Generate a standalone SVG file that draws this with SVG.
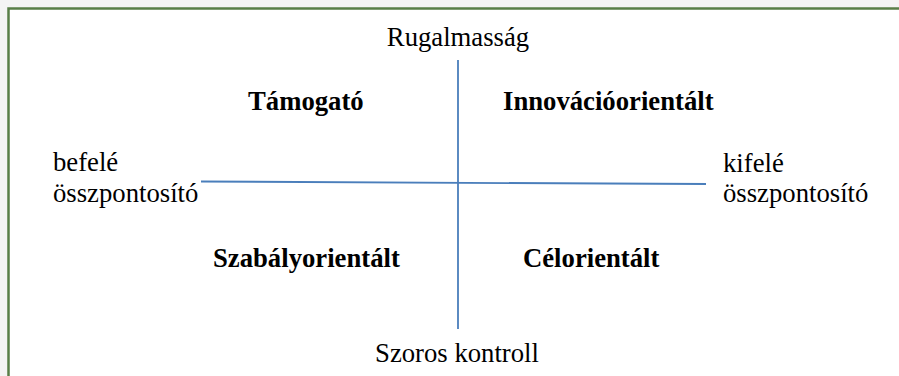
<svg xmlns="http://www.w3.org/2000/svg" width="899" height="376" viewBox="0 0 899 376">
<style>
.t{font-family:"Liberation Serif",serif;font-size:26.7px;font-weight:normal;fill:#000}
.b{font-weight:bold}
.ax{stroke:#4a7ebb;stroke-width:1.8;fill:none}
</style>
<rect x="0" y="0" width="899" height="376" fill="#f4f4f4"/>
<rect x="9" y="9" width="890" height="367" fill="#ffffff"/>
<path d="M8.5 376 V8.5 H899" stroke="#587e47" stroke-width="2.5" fill="none"/>
<g id="connectors">
<line class="ax" x1="458" y1="60" x2="458" y2="329"/>
<line class="ax" x1="201" y1="181.5" x2="706" y2="184"/>
</g>
<g id="top"><text class="t" x="458" y="46" text-anchor="middle">Rugalmasság</text></g>
<g id="bottom"><text class="t" x="457" y="362" text-anchor="middle">Szoros kontroll</text></g>
<g id="left"><text class="t" x="53" y="171">befelé</text><text class="t" x="53" y="202">összpontosító</text></g>
<g id="right"><text class="t" x="723" y="172">kifelé</text><text class="t" x="723" y="202">összpontosító</text></g>
<g id="q1"><text class="t b" x="248" y="110">Támogató</text></g>
<g id="q2"><text class="t b" x="503" y="110">Innovációorientált</text></g>
<g id="q3"><text class="t b" x="213" y="267">Szabályorientált</text></g>
<g id="q4"><text class="t b" x="523" y="267">Célorientált</text></g>
</svg>
